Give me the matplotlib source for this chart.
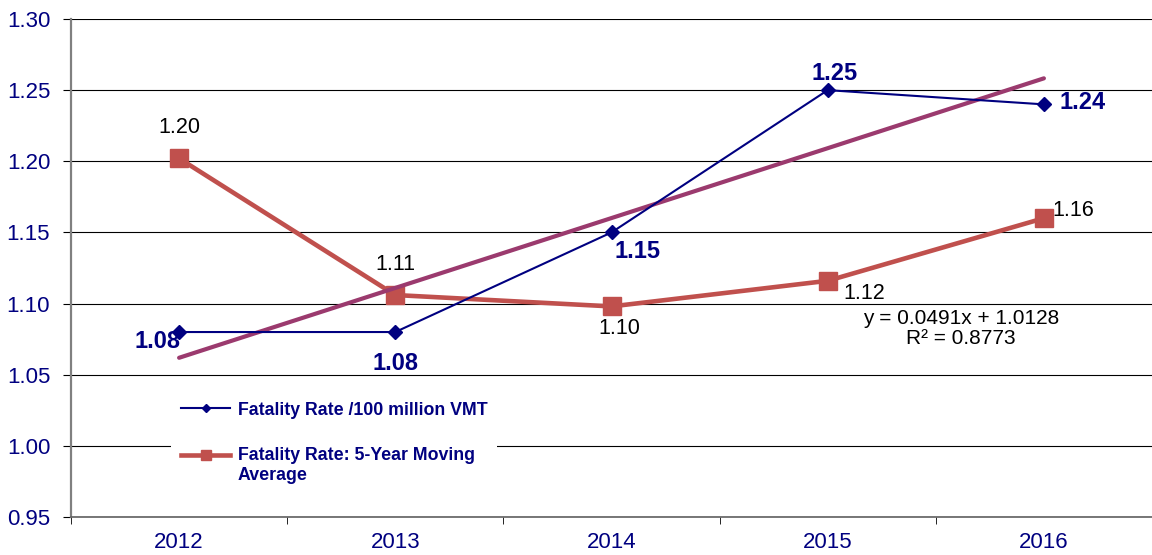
import numpy as np
import matplotlib.pyplot as plt
from matplotlib.legend_handler import HandlerLine2D

plt.rcParams['font.family'] = ['Liberation Sans', 'DejaVu Sans']

years = ['2012', '2013', '2014', '2015', '2016']
rate = [1.08, 1.08, 1.15, 1.25, 1.24]
rate_labels = ['1.08', '1.08', '1.15', '1.25', '1.24']
avg5 = [1.202, 1.106, 1.098, 1.116, 1.160]
avg5_labels = ['1.20', '1.11', '1.10', '1.12', '1.16']
trend_slope = 0.0491
trend_icept = 1.0128
r2 = 0.8773

navy = '#000080'
red = '#C0504D'
plum = '#9B3A6E'


class ShiftedLine(HandlerLine2D):
    # legend handle nudged up so it sits on the first line of a 2-line label
    def __init__(self, dy, **kw):
        super().__init__(**kw)
        self.dy = dy

    def create_artists(self, legend, orig_handle, xdescent, ydescent, width,
                       height, fontsize, trans):
        arts = super().create_artists(legend, orig_handle, xdescent, ydescent,
                                      width, height, fontsize, trans)
        for a in arts:
            a.set_ydata(np.asarray(a.get_ydata()) + self.dy)
        return arts


fig = plt.figure(figsize=(11.52, 5.55), dpi=100)
ax = fig.add_axes([71/1152, 38/555, 1 - 71/1152, 498/555])

x = np.arange(1, len(years) + 1)
trend = trend_slope * x + trend_icept

ax.plot(x, rate, color=navy, lw=1.5, marker='D', ms=7.5, zorder=4,
        label='Fatality Rate /100 million VMT')
red_line, = ax.plot(x, avg5, color=red, lw=3.3, marker='s', ms=13, zorder=3,
                    label='Fatality Rate: 5-Year Moving\nAverage')
ax.plot(x, trend, color=plum, lw=3.0, solid_capstyle='round', zorder=3.5)

# data labels
blue_off = [(-22, -9), (0, -31), (26, -19), (7, 17), (39, 2)]
for xi, yi, s, off in zip(x, rate, rate_labels, blue_off):
    ax.annotate(s, (xi, yi), xytext=off, textcoords='offset pixels',
                ha='center', va='center', fontsize=17, fontweight='bold',
                color=navy, zorder=6)
red_off = [(0, 31), (0, 31), (8, -22), (37, -13), (29, 8)]
for xi, yi, s, off in zip(x, avg5, avg5_labels, red_off):
    ax.annotate(s, (xi, yi), xytext=off, textcoords='offset pixels',
                ha='center', va='center', fontsize=15.5, color='black', zorder=6)

fig.text(961/1152, 1 - 318/555, f'y = {trend_slope}x + {trend_icept}', ha='center',
         va='center', fontsize=15, color='black')
fig.text(961/1152, 1 - 338/555, f'R² = {r2}', ha='center', va='center',
         fontsize=15, color='black')

ax.set_xlim(0.5, 0.5 + (1152 - 71) / 218)
ax.set_ylim(0.95, 1.30)
ax.set_yticks(np.arange(0.95, 1.301, 0.05))
ax.set_yticklabels([f'{v:.2f}' for v in np.arange(0.95, 1.301, 0.05)])
ax.yaxis.grid(True, color='black', lw=0.8)
ax.set_axisbelow(True)

ax.set_xticks(x)
ax.set_xticklabels(years)
ax.set_xticks(np.arange(0.5, 5.6, 1.0), minor=True)
ax.tick_params(axis='x', which='major', length=0, pad=11, labelsize=16, labelcolor=navy)
ax.tick_params(axis='x', which='minor', length=5, color='black')
ax.tick_params(axis='y', length=6, color='black', labelsize=16, labelcolor=navy, pad=9)

for s in ['top', 'right']:
    ax.spines[s].set_visible(False)
ax.spines['left'].set_color('#808080')
ax.spines['left'].set_linewidth(1.6)
ax.spines['bottom'].set_color('#606060')
ax.spines['bottom'].set_linewidth(1.2)

leg = ax.legend(loc='upper left', bbox_to_anchor=(162/1152, 1 - 383/555),
                bbox_transform=fig.transFigure, frameon=True, fancybox=False,
                edgecolor='none', facecolor='white', framealpha=1,
                handlelength=2.8, handletextpad=0.4, labelspacing=1.6,
                borderpad=0.55, markerscale=0.6,
                handler_map={red_line: ShiftedLine(dy=8)},
                prop={'size': 12.8, 'weight': 'bold'})
for t in leg.get_texts():
    t.set_color(navy)
    t.set_linespacing(1.2)
leg.set_zorder(5)

fig.savefig('out.png', dpi=100)
